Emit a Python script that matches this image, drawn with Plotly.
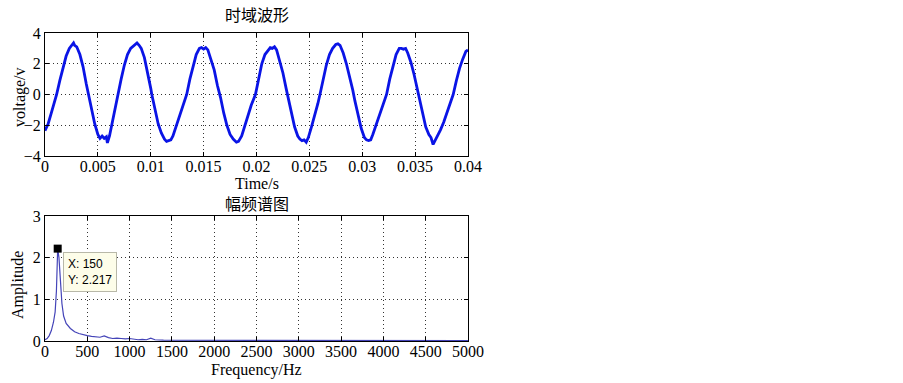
import plotly.graph_objects as go

# ---------------- data ----------------
time_s = [0.0000, 0.0003, 0.0006, 0.0009, 0.0011, 0.0014, 0.0017, 0.0020, 0.0023, 0.0025,
          0.0027, 0.0028, 0.0030, 0.0033, 0.0036, 0.0039, 0.0041, 0.0044, 0.0047, 0.0050,
          0.0052, 0.0054, 0.0056, 0.0058, 0.0059, 0.0061, 0.0063, 0.0066, 0.0069, 0.0072,
          0.0075, 0.0078, 0.0081, 0.0084, 0.0087, 0.0089, 0.0091, 0.0094, 0.0097, 0.0100,
          0.0101, 0.0104, 0.0107, 0.0110, 0.0113, 0.0115, 0.0117, 0.0119, 0.0121, 0.0124,
          0.0127, 0.0130, 0.0134, 0.0137, 0.0140, 0.0143, 0.0146, 0.0148, 0.0150, 0.0152,
          0.0154, 0.0157, 0.0160, 0.0163, 0.0166, 0.0169, 0.0172, 0.0175, 0.0178, 0.0181,
          0.0183, 0.0186, 0.0189, 0.0192, 0.0195, 0.0199, 0.0202, 0.0205, 0.0208, 0.0211,
          0.0213, 0.0215, 0.0217, 0.0219, 0.0222, 0.0225, 0.0228, 0.0230, 0.0233, 0.0236,
          0.0239, 0.0241, 0.0243, 0.0245, 0.0247, 0.0249, 0.0252, 0.0255, 0.0258, 0.0260,
          0.0263, 0.0266, 0.0269, 0.0272, 0.0275, 0.0277, 0.0279, 0.0282, 0.0285, 0.0288,
          0.0291, 0.0293, 0.0296, 0.0299, 0.0302, 0.0304, 0.0306, 0.0308, 0.0310, 0.0313,
          0.0316, 0.0319, 0.0323, 0.0326, 0.0329, 0.0332, 0.0335, 0.0337, 0.0339, 0.0341,
          0.0343, 0.0346, 0.0349, 0.0352, 0.0354, 0.0357, 0.0360, 0.0363, 0.0365, 0.0367,
          0.0369, 0.0371, 0.0374, 0.0377, 0.0380, 0.0383, 0.0386, 0.0389, 0.0392, 0.0395,
          0.0398, 0.0400]
voltage_v = [-2.35, -1.9, -1.2, -0.5, 0.0, 0.9, 1.8, 2.5, 3.0, 3.2,
             3.35, 3.2, 3.1, 2.6, 1.8, 0.7, 0.0, -1.0, -1.9, -2.6,
             -2.85, -2.7, -2.85, -2.75, -3.15, -2.7, -2.0, -1.0, 0.0, 1.0,
             1.9, 2.6, 3.0, 3.2, 3.35, 3.2, 3.0, 2.4, 1.5, 0.4,
             0.0, -1.0, -1.9, -2.5, -2.9, -3.05, -3.0, -2.95, -2.7, -2.1,
             -1.5, -0.9, 0.0, 1.0, 1.9, 2.6, 3.0, 3.05, 2.95, 3.05,
             2.9, 2.3, 1.6, 0.6, -0.2, -1.2, -2.0, -2.6, -2.9, -3.1,
             -3.05, -2.7, -2.0, -1.4, -0.7, 0.0, 1.0, 2.0, 2.6, 2.9,
             3.05, 3.0, 3.1, 2.9, 2.2, 1.4, 0.4, -0.2, -1.2, -2.1,
             -2.7, -2.9, -3.0, -2.95, -3.1, -2.8, -2.1, -1.4, -0.6, 0.0,
             1.0, 1.9, 2.6, 3.0, 3.25, 3.3, 3.2, 2.7, 2.0, 1.2,
             0.3, -0.4, -1.4, -2.2, -2.8, -2.95, -3.0, -2.95, -2.6, -2.0,
             -1.4, -0.8, 0.0, 1.0, 1.9, 2.6, 3.0, 3.0, 2.95, 3.0,
             2.7, 2.1, 1.3, 0.4, -0.3, -1.3, -2.1, -2.6, -2.8, -3.25,
             -3.0, -2.7, -2.3, -1.8, -1.2, -0.6, 0.0, 0.9, 1.7, 2.3,
             2.8, 2.9]

freq_hz = [0, 25, 50, 75, 100, 120, 135, 150, 165, 180, 200, 220, 250, 300, 350, 400,
           450, 500, 550, 600, 650, 700, 750, 800, 850, 900, 950, 1000, 1050, 1100,
           1150, 1200, 1250, 1300, 1400, 1500, 1600, 1750, 2000, 2250, 2500, 2750,
           3000, 3500, 4000, 4500, 5000]
amplitude = [0.03, 0.06, 0.13, 0.25, 0.45, 0.7, 1.2, 2.217, 2.0, 1.4, 0.9, 0.6, 0.42, 0.3,
             0.22, 0.18, 0.15, 0.13, 0.11, 0.1, 0.09, 0.12, 0.08, 0.06, 0.07, 0.06, 0.05,
             0.06, 0.04, 0.03, 0.04, 0.03, 0.07, 0.03, 0.02, 0.02, 0.02, 0.02, 0.02, 0.015,
             0.02, 0.01, 0.01, 0.01, 0.01, 0.01, 0.01]

tip_x = 150
tip_y = 2.217

time_ticks = [0, 0.005, 0.01, 0.015, 0.02, 0.025, 0.03, 0.035, 0.04]
time_tick_text = ["0", "0.005", "0.01", "0.015", "0.02", "0.025", "0.03", "0.035", "0.04"]
volt_ticks = [-4, -2, 0, 2, 4]
freq_ticks = [0, 500, 1000, 1500, 2000, 2500, 3000, 3500, 4000, 4500, 5000]
amp_ticks = [0, 1, 2, 3]

title_top = "时域波形"
title_bottom = "幅频谱图"
xlabel_top = "Time/s"
ylabel_top = "voltage/v"
xlabel_bottom = "Frequency/Hz"
ylabel_bottom = "Amplitude"

# ---------------- layout helpers ----------------
W, H = 903, 383
def px(x):
    return x / W
def py(y):
    return 1 - y / H

SERIF = "Liberation Serif"
CJK = "Noto Sans CJK SC"

fig = go.Figure()
fig.add_trace(go.Scatter(x=time_s, y=voltage_v, mode="lines",
                         line=dict(color="#0a14e6", width=2.8),
                         xaxis="x", yaxis="y", showlegend=False))
fig.add_trace(go.Scatter(x=freq_hz, y=amplitude, mode="lines",
                         line=dict(color="#4444b8", width=1.2),
                         xaxis="x2", yaxis="y2", showlegend=False))
fig.add_trace(go.Scatter(x=[tip_x], y=[tip_y], mode="markers",
                         marker=dict(symbol="square", size=8, color="black"),
                         xaxis="x2", yaxis="y2", showlegend=False))

axis_common = dict(showline=True, linecolor="black", linewidth=1, mirror="ticks",
                   ticks="inside", ticklen=4, tickcolor="black", automargin=False,
                   showgrid=True, gridcolor="#333333", griddash="1px,3px", gridwidth=1,
                   zeroline=False, tickfont=dict(family=SERIF, size=16, color="black"))

fig.update_layout(
    template="none",
    width=W, height=H,
    margin=dict(l=0, r=0, t=0, b=0, pad=0, autoexpand=False),
    paper_bgcolor="white", plot_bgcolor="white",
    xaxis=dict(domain=[px(45), px(468)], range=[0, 0.04], anchor="y",
               tickvals=time_ticks, ticktext=time_tick_text, ticklabelstandoff=-4,
               **axis_common),
    yaxis=dict(domain=[py(156), py(33)], range=[-4, 4], anchor="x",
               tickvals=volt_ticks, **axis_common),
    xaxis2=dict(domain=[px(45), px(468)], range=[0, 5000], anchor="y2",
                tickvals=freq_ticks, ticktext=[str(v) for v in freq_ticks],
                ticklabelstandoff=-4, **axis_common),
    yaxis2=dict(domain=[py(341), py(216)], range=[0, 3], anchor="x2",
                tickvals=amp_ticks, **axis_common),
)

def label(text, x, y, font, angle=0):
    return dict(text=text, x=px(x), y=py(y), xref="paper", yref="paper",
                xanchor="center", yanchor="middle", textangle=angle,
                showarrow=False, font=font)

f_cjk = dict(family=CJK, size=16, color="black")
f_ser = dict(family=SERIF, size=16, color="black")
ann = [
    label(title_top, 256.5, 14, f_cjk),
    label(title_bottom, 256.5, 203, f_cjk),
    label(xlabel_top, 256.5, 183, f_ser),
    label(xlabel_bottom, 256.5, 370, f_ser),
    label(ylabel_top, 20, 97, f_ser, -90),
    label(ylabel_bottom, 18, 285, f_ser, -90),
    dict(text=f"X: {tip_x}<br>Y: {tip_y}", x=px(63), y=py(252), xref="paper", yref="paper",
         xanchor="left", yanchor="top", align="left", showarrow=False,
         bgcolor="#fdfde9", bordercolor="#b8b8a8", borderwidth=1, borderpad=4,
         font=dict(family="Liberation Sans", size=12, color="black")),
]
fig.update_layout(annotations=ann)

fig.write_html("out.html", config={"displayModeBar": False},
               post_script="document.body.style.margin='0';")
